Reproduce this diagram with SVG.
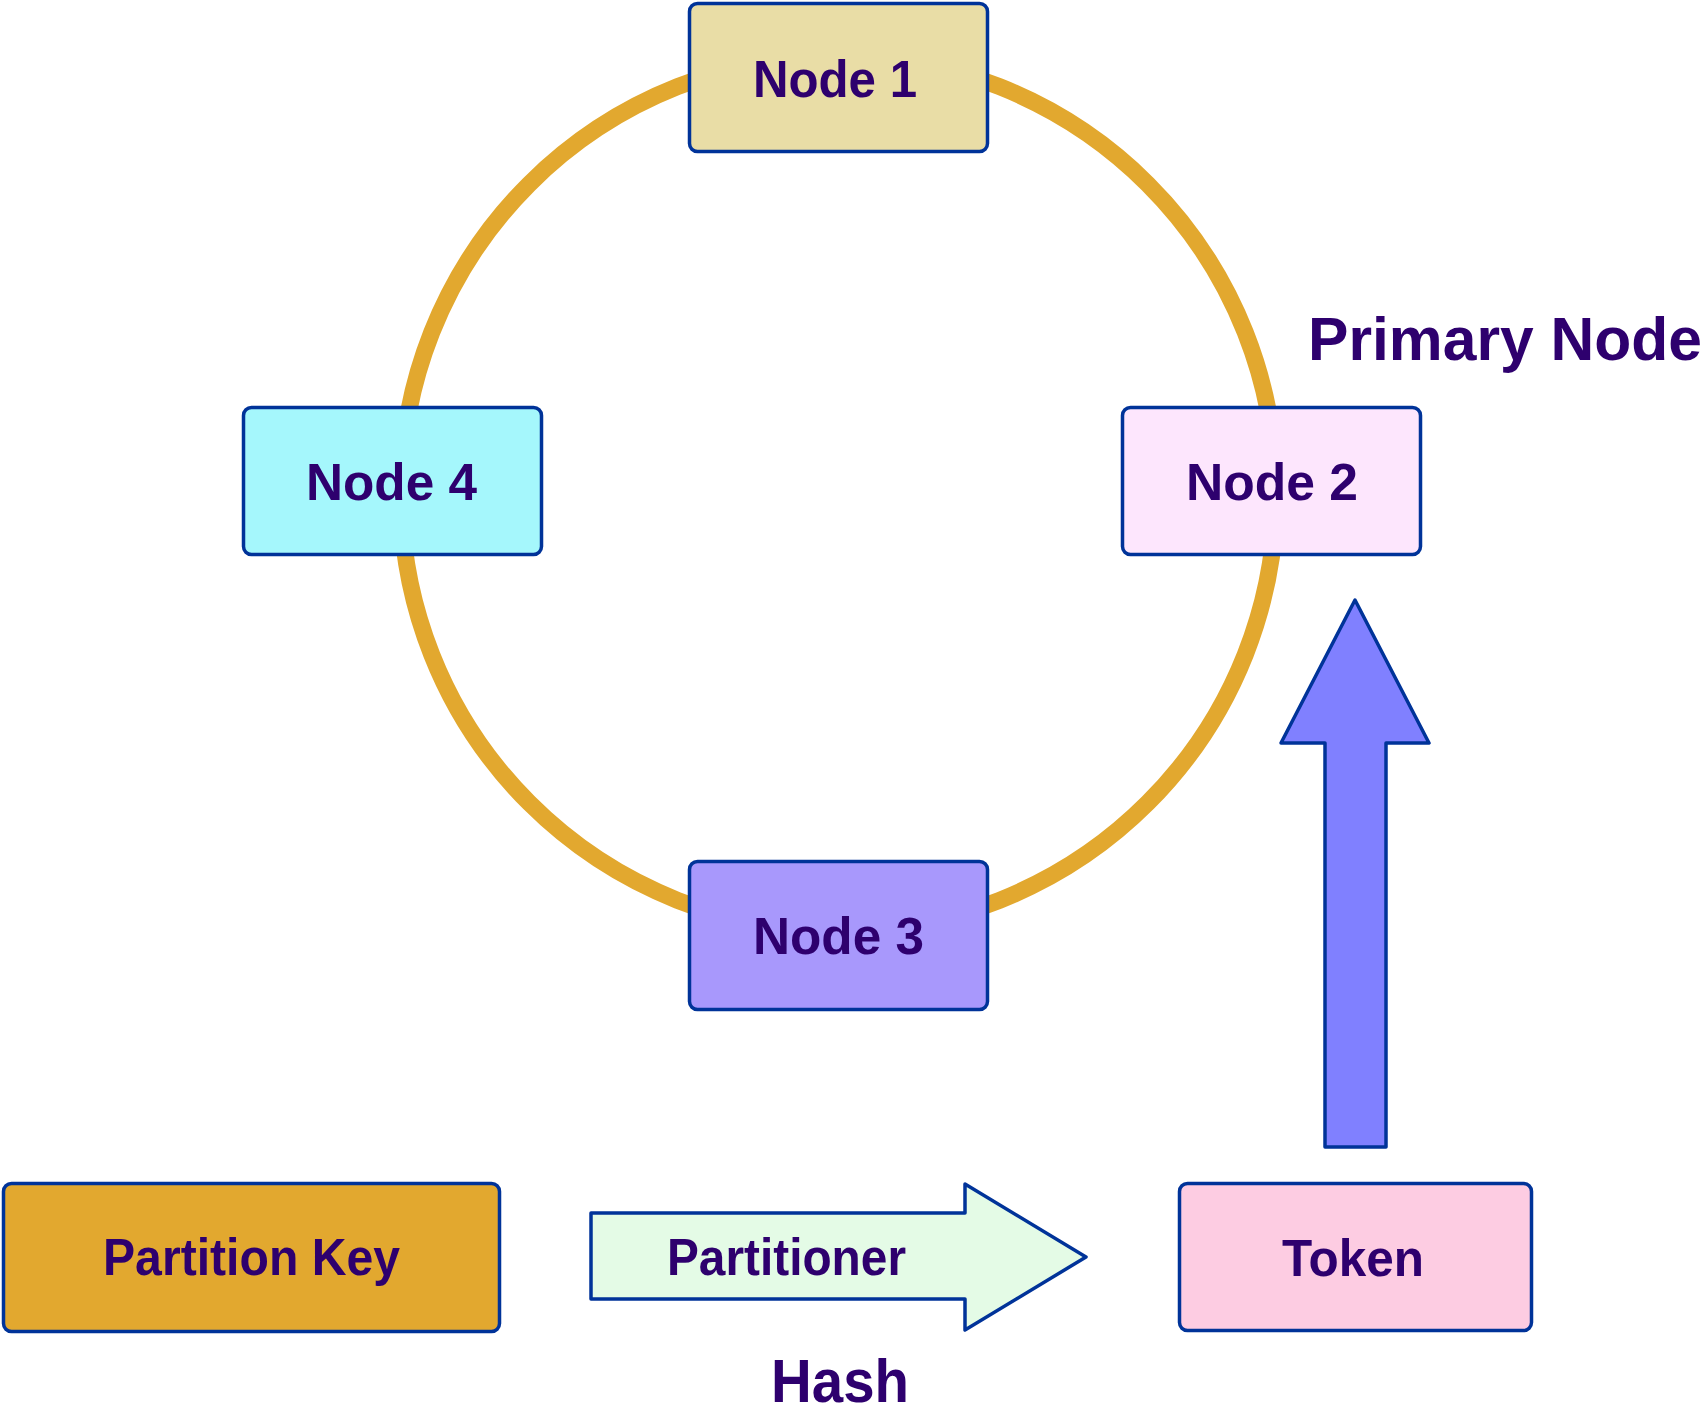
<svg xmlns="http://www.w3.org/2000/svg" width="1707" height="1421" viewBox="0 0 1707 1421">
<style>
.box{stroke:#003399;stroke-width:3.5;stroke-linejoin:round}
.lbl{font-family:"Liberation Sans",Arial,sans-serif;font-weight:bold;fill:#2E006E;font-size:52px}
.big{font-size:61px}
.arr{stroke:#003399;stroke-width:3.5;stroke-linejoin:round}
</style>
<rect width="1707" height="1421" fill="#ffffff"/>
<g id="connectors">
<circle id="ring" cx="838.5" cy="493.5" r="437.5" fill="none" stroke="#E2A82F" stroke-width="17"/>
<polygon id="partitioner-arrow" class="arr" fill="#E4FBE6" points="591,1213 965,1213 965,1184 1086,1257 965,1330 965,1299 591,1299"/>
<polygon id="up-arrow" class="arr" fill="#8080FF" points="1355,600 1429,743 1386,743 1386,1147 1325,1147 1325,743 1281,743"/>
</g>
<g id="node1">
<rect class="box" x="689.5" y="3.5" width="298" height="148" rx="8" fill="#E9DDA6"/>
<text class="lbl" x="753" y="97" textLength="164" lengthAdjust="spacingAndGlyphs">Node 1</text>
</g>
<g id="node4">
<rect class="box" x="243.5" y="407.5" width="298" height="147" rx="8" fill="#A5F7FC"/>
<text class="lbl" x="306" y="500" textLength="171" lengthAdjust="spacingAndGlyphs">Node 4</text>
</g>
<g id="node2">
<rect class="box" x="1122.5" y="407.5" width="298" height="147" rx="8" fill="#FDE6FD"/>
<text class="lbl" x="1186" y="500" textLength="172" lengthAdjust="spacingAndGlyphs">Node 2</text>
</g>
<g id="node3">
<rect class="box" x="689.5" y="861.5" width="298" height="148" rx="8" fill="#A898FC"/>
<text class="lbl" x="753" y="954" textLength="171" lengthAdjust="spacingAndGlyphs">Node 3</text>
</g>
<g id="primary-label">
<text class="lbl big" x="1308" y="360" textLength="394" lengthAdjust="spacingAndGlyphs">Primary Node</text>
</g>
<g id="partition-key">
<rect class="box" x="3.5" y="1183.5" width="496" height="148" rx="8" fill="#E2A82F"/>
<text class="lbl" x="103" y="1275" textLength="297" lengthAdjust="spacingAndGlyphs">Partition Key</text>
</g>
<g id="partitioner">
<text class="lbl" x="667" y="1275" textLength="239" lengthAdjust="spacingAndGlyphs">Partitioner</text>
</g>
<g id="hash-label">
<text class="lbl big" x="771" y="1402" textLength="138" lengthAdjust="spacingAndGlyphs">Hash</text>
</g>
<g id="token">
<rect class="box" x="1179.5" y="1183.5" width="352" height="147" rx="8" fill="#FDCCE2"/>
<text class="lbl" x="1282" y="1276" textLength="142" lengthAdjust="spacingAndGlyphs">Token</text>
</g>
</svg>
